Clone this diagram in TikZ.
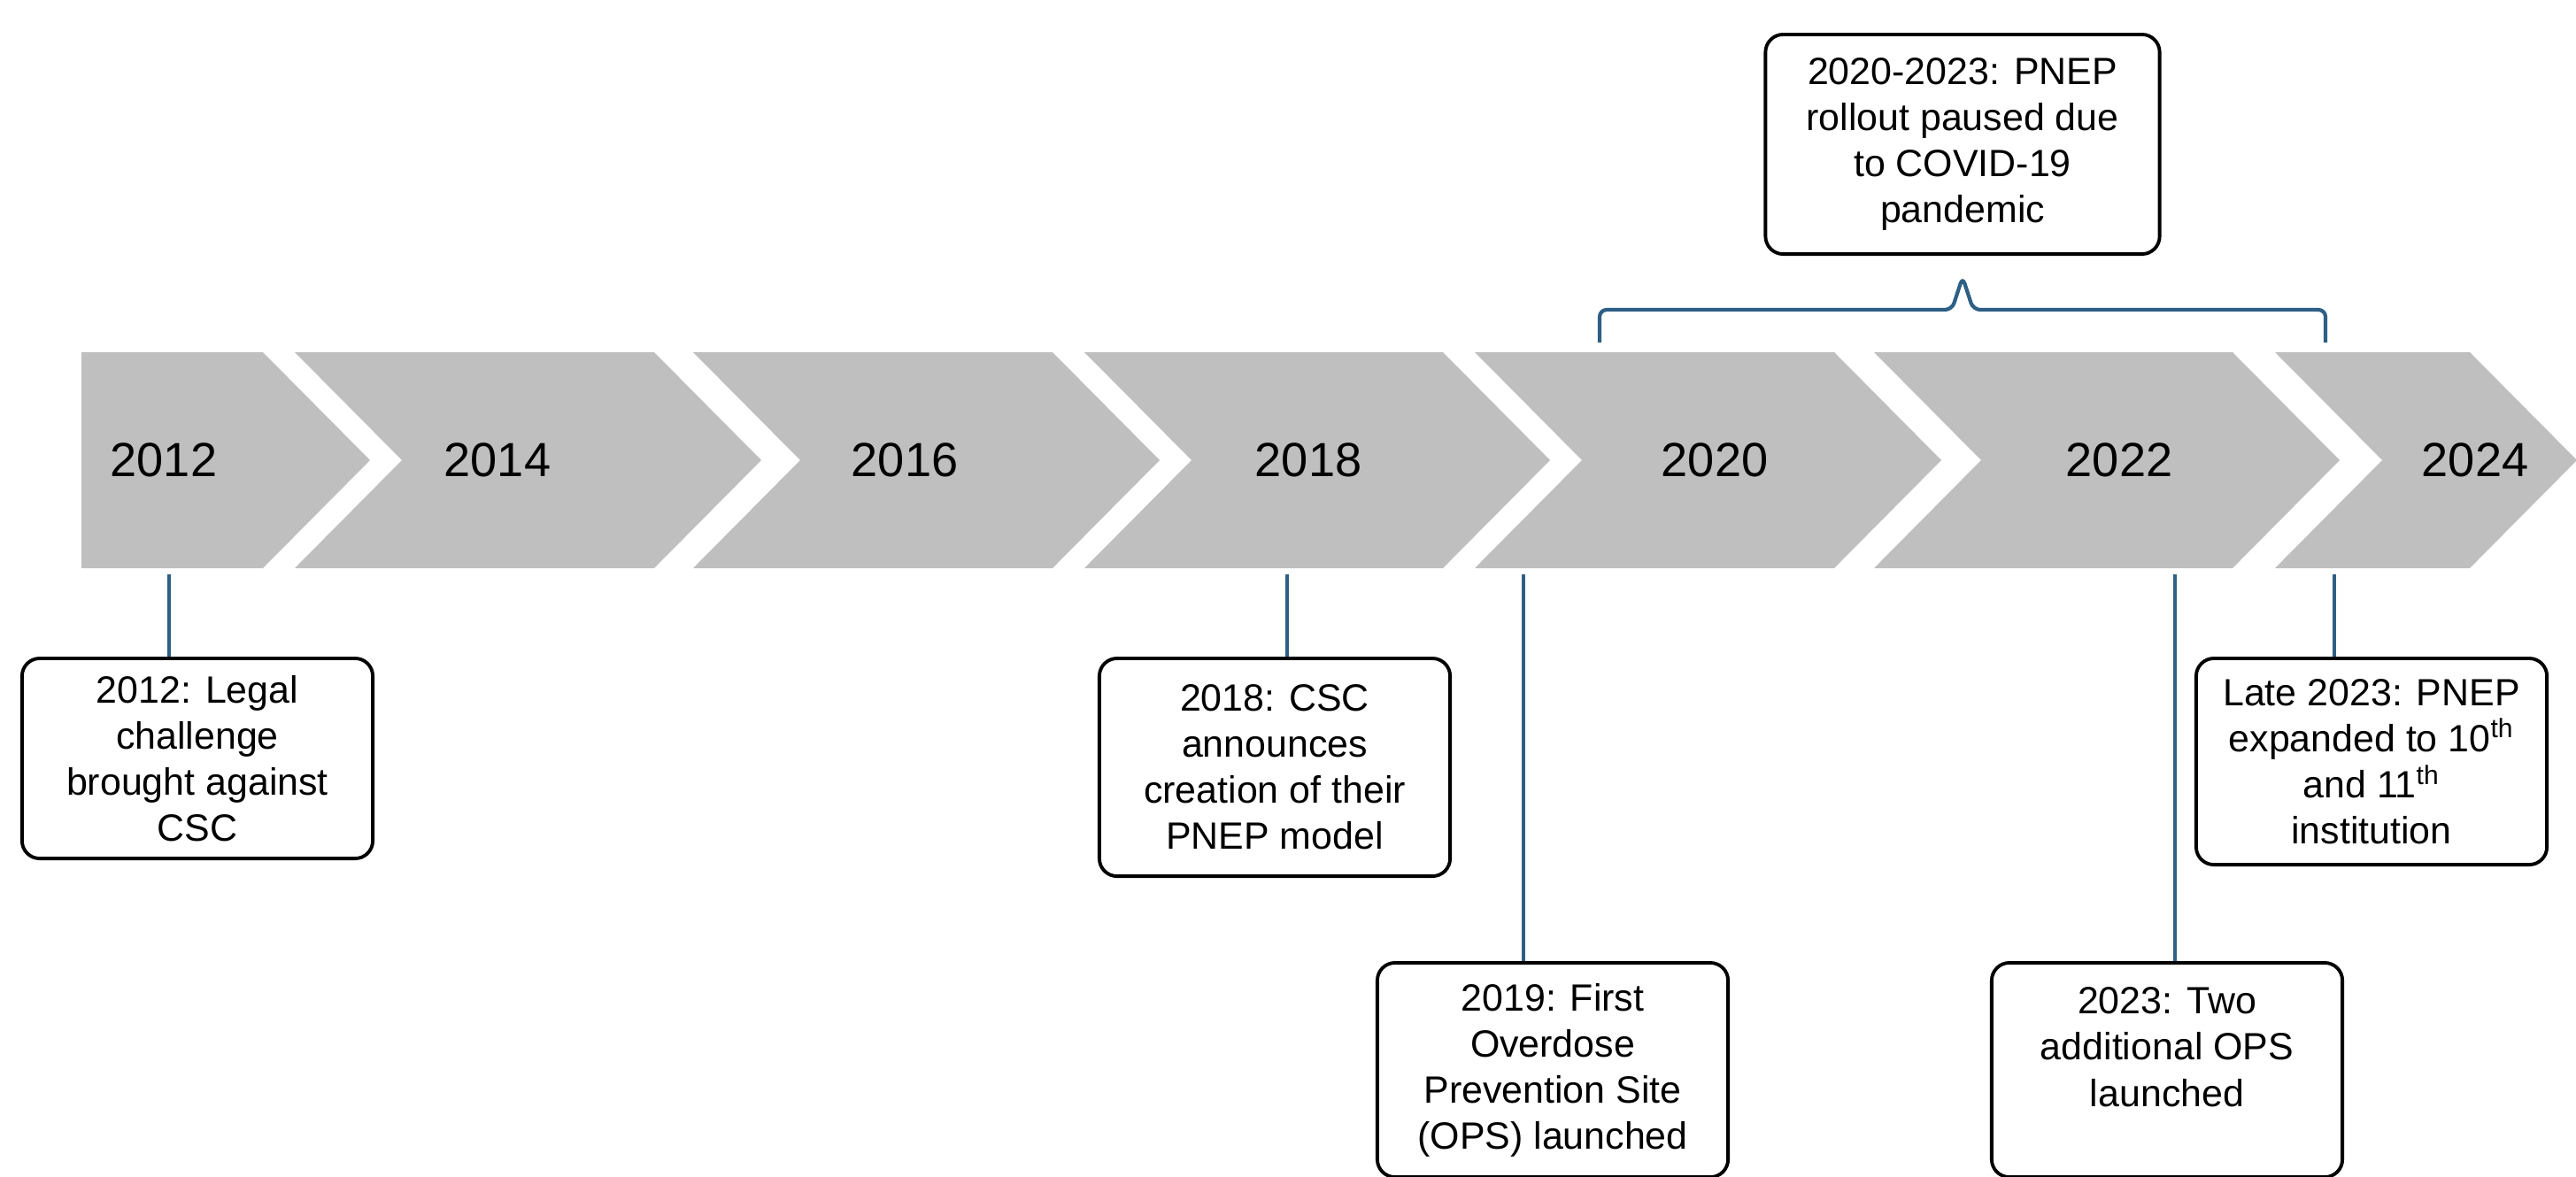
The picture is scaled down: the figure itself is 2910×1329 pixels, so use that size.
\documentclass[tikz,border=0pt]{standalone}
\usepackage{fontspec}
\setmainfont{Liberation Sans}
\usepackage{xcolor}
\usepackage{tikz}

\definecolor{bandgray}{RGB}{191,191,191}
\definecolor{linkblue}{RGB}{46,95,133}
\newcommand\yearfont{\fontsize{15.4}{18}\selectfont}
\newcommand\evfont{\fontsize{12.2}{14.8}\selectfont}

\begin{document}
\begin{tikzpicture}[
                x=0.01cm, y=-0.01cm,
                year/.style={font=\yearfont, inner sep=0pt},
                evbox/.style={draw, line width=1.1pt, rounded corners=0.2cm, minimum width=3.96cm, align=center, font=\evfont, inner sep=0pt, fill=white},
                link/.style={draw=linkblue, line width=1.2pt}
            ]
                \useasboundingbox (0,0) rectangle (2910,1329);

                % band of chevrons
                \fill[bandgray] (92,398) -- (297,398) -- (418,520) -- (297,642) -- (92,642) -- cycle;
                \foreach \a/\b in {333/739, 783/1189, 1225/1630, 1666/2072, 2117/2522, 2570/2790}
                    \fill[bandgray] (\a,398) -- (\b,398) -- ({\b+121},520) -- (\b,642) -- (\a,642) -- ({\a+121},520) -- cycle;

                \node[year] (y2012) at (185,520) {2012};
                \node[year] (y2014) at (562,520) {2014};
                \node[year] (y2016) at (1022,520) {2016};
                \node[year] (y2018) at (1478,520) {2018};
                \node[year] (y2020) at (1937,520) {2020};
                \node[year] (y2022) at (2394,520) {2022};
                \node[year] (y2024) at (2796,520) {2024};

                % events below the band
                \coordinate (t2012) at (191,649);
                \coordinate (t2018) at (1454,649);
                \coordinate (t2019) at (1721,649);
                \coordinate (t2023) at (2457,649);
                \coordinate (tlate) at (2637,649);

                \node[evbox, anchor=north, minimum height=2.26cm] (e2012) at (223,742) {2012: Legal\\challenge\\brought against\\CSC};
                \node[evbox, anchor=north, minimum height=2.46cm] (e2018) at (1440,742) {2018: CSC\\announces\\creation of their\\PNEP model};
                \node[evbox, anchor=north, minimum height=2.42cm] (e2019) at (1754,1086) {2019: First\\Overdose\\Prevention Site\\(OPS) launched};
                \node[evbox, anchor=north, minimum height=2.42cm] (e2023) at (2448,1086) {2023: Two\\additional OPS\\launched\\\mbox{}};
                \node[evbox, anchor=north, minimum height=2.33cm] (elate) at (2679,742) {Late 2023: PNEP\\expanded to 10\textsuperscript{th}\\and 11\textsuperscript{th}\\institution};

                \draw[link] (t2012) -- (t2012 |- e2012.north);
                \draw[link] (t2018) -- (t2018 |- e2018.north);
                \draw[link] (t2019) -- (t2019 |- e2019.north);
                \draw[link] (t2023) -- (t2023 |- e2023.north);
                \draw[link] (tlate) -- (tlate |- elate.north);

                % pause above the band
                \node[evbox, minimum width=4.45cm, minimum height=2.48cm] (pause) at (2217,163) {2020-2023: PNEP\\rollout paused due\\to COVID-19\\pandemic};
                \coordinate (brL) at (1807,387);
                \coordinate (brR) at (2627,387);
                \coordinate (brM) at (2217,313);
                \draw[link, rounded corners=0.08cm] (brL) -- ++(0,-37) -- ++(398,0) -- (brM) -- ++(12,37) -- ++(398,0) -- (brR);
            \end{tikzpicture}
\end{document}
